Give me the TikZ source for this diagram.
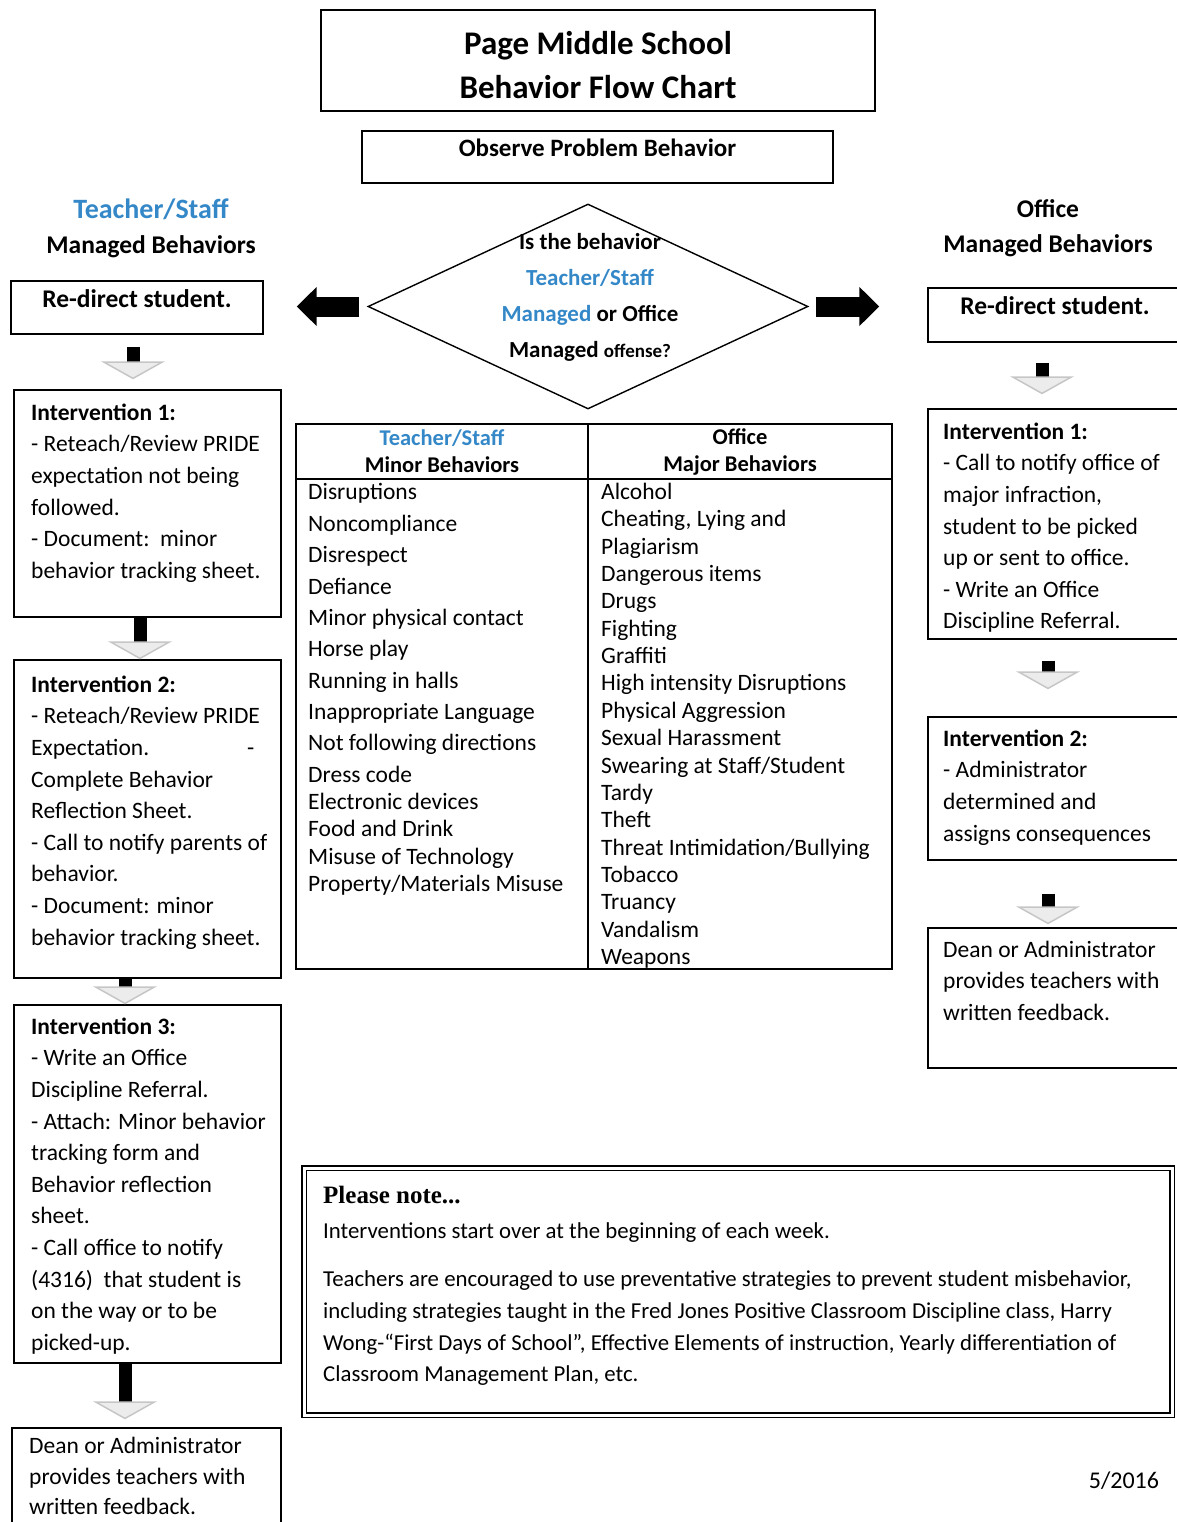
\documentclass[tikz,border=0pt]{standalone}
\usepackage{fontspec}
\setmainfont{Carlito}
\newfontfamily\notefont{Liberation Serif}
\usetikzlibrary{arrows.meta,shapes.geometric}

\begin{document}
\begin{tikzpicture}[x=1pt,y=-1pt,
  box/.style={draw, line width=1.4pt, inner sep=0pt},
  headbox/.style={box, font=\bfseries\fontsize{25.5}{28}\selectfont, text depth=18pt},
  boxtext/.style={anchor=north west, align=left, inner sep=0pt, font=\fontsize{23.5}{31.6}\selectfont},
  listtext/.style={anchor=north west, align=left, inner sep=0pt, font=\fontsize{23.5}{27.35}\selectfont},
  colhead/.style={align=center, font=\bfseries\fontsize{25.5}{35}\selectfont},
  tablehead/.style={align=center, font=\bfseries\fontsize{22.5}{27}\selectfont},
  downflow/.style={line width=13pt, -{Triangle[width=64pt,length=18pt,fill=gray!15,color=gray!45,line width=1.5pt]}},
  sideflow/.style={line width=20pt, -{Triangle[width=38pt,length=20pt]}}]
\definecolor{tsblue}{RGB}{52,136,200}
\useasboundingbox (0,0) rectangle (1176,1522);

% title and start
\node[box, minimum width=554pt, minimum height=101pt] (title) at (598,60.5) {};
\node[align=center, font=\bfseries\fontsize{33}{44}\selectfont] (titletext) at (598,65) {Page Middle School\\Behavior Flow Chart};
\node[headbox, font=\bfseries\fontsize{25}{28}\selectfont, minimum width=471pt, minimum height=52pt] (observe) at (597.5,157) {Observe Problem Behavior};

% column headings
\node[colhead] (tshead) at (151,228.5) {{\color{tsblue}\fontsize{28}{35}\selectfont Teacher/Staff}\\Managed Behaviors};
\node[colhead] (offhead) at (1048,228.5) {Office\\Managed Behaviors};

% decision
\node[draw, diamond, line width=1.4pt, minimum width=440pt, minimum height=205pt, inner sep=0pt] (dia) at (588,306.5) {};
\node[align=center, font=\bfseries\fontsize{23}{36}\selectfont] (question) at (590,297) {Is the behavior\\{\color{tsblue}Teacher/Staff}\\{\color{tsblue}Managed} or Office\\Managed {\fontsize{19}{36}\selectfont offense?}};

\node[headbox, minimum width=252pt, minimum height=53pt] (redirL) at (137,307.5) {Re-direct student.};
\node[headbox, minimum width=254pt, minimum height=54pt] (redirR) at (1055,315) {Re-direct student.};

% teacher/staff side
\node[box, minimum width=267pt, minimum height=227pt] (int1L) at (147.5,503.5) {};
\node[boxtext] (int1Ltext) at (31,403.5) {\textbf{Intervention 1:}\\- Reteach/Review PRIDE\\expectation not being\\followed.\\- Document:\ \ minor\\behavior tracking sheet.};
\node[box, minimum width=267pt, minimum height=318pt] (int2L) at (147.5,819) {};
\node[boxtext] (int2Ltext) at (31,675.5) {\textbf{Intervention 2:}\\- Reteach/Review PRIDE\\\makebox[216pt][l]{Expectation.}-\\Complete Behavior\\Reflection Sheet.\\- Call to notify parents of\\behavior.\\- Document: minor\\behavior tracking sheet.};
\node[box, minimum width=267pt, minimum height=358pt] (int3L) at (147.5,1184) {};
\node[boxtext] (int3Ltext) at (31,1017.5) {\textbf{Intervention 3:}\\- Write an Office\\Discipline Referral.\\- Attach: Minor behavior\\tracking form and\\Behavior reflection\\sheet.\\- Call office to notify\\(4316)\ \ that student is\\on the way or to be\\picked-up.};
\node[box, minimum width=269pt, minimum height=112pt] (deanL) at (146.5,1484) {};
\node[boxtext, font=\fontsize{23.5}{30.5}\selectfont] (deanLtext) at (29,1437) {Dean or Administrator\\provides teachers with\\written feedback.};

% office side
\node[box, minimum width=254pt, minimum height=230pt] (int1R) at (1055,524) {};
\node[boxtext] (int1Rtext) at (943,422.5) {\textbf{Intervention 1:}\\- Call to notify office of\\major infraction,\\student to be picked\\up or sent to office.\\- Write an Office\\Discipline Referral.};
\node[box, minimum width=254pt, minimum height=143pt] (int2R) at (1055,788.5) {};
\node[boxtext] (int2Rtext) at (943,729.5) {\textbf{Intervention 2:}\\- Administrator\\determined and\\assigns consequences};
\node[box, minimum width=254pt, minimum height=140pt] (deanR) at (1055,998) {};
\node[boxtext] (deanRtext) at (943,940.5) {Dean or Administrator\\provides teachers with\\written feedback.};

% behavior table
\draw[line width=1.4pt] (296,424) rectangle (892,969);
\draw[line width=1.4pt] (588,424) -- (588,969);
\draw[line width=1.4pt] (296,479) -- (892,479);
\node[tablehead] (minorhead) at (442,451.5) {{\color{tsblue}Teacher/Staff}\\Minor Behaviors};
\node[tablehead] (majorhead) at (740,451.5) {Office\\Major Behaviors};
\node[listtext] (minorlist) at (308,483.5) {Disruptions\\[4pt]Noncompliance\\[4pt]Disrespect\\[4pt]Defiance\\[4pt]Minor physical contact\\[4pt]Horse play\\[4pt]Running in halls\\[4pt]Inappropriate Language\\[4pt]Not following directions\\[4pt]Dress code\\Electronic devices\\Food and Drink\\Misuse of Technology\\Property/Materials Misuse};
\node[listtext] (majorlist) at (601,483) {Alcohol\\Cheating, Lying and\\Plagiarism\\Dangerous items\\Drugs\\Fighting\\Graffiti\\High intensity Disruptions\\Physical Aggression\\Sexual Harassment\\Swearing at Staff/Student\\Tardy\\Theft\\Threat Intimidation/Bullying\\Tobacco\\Truancy\\Vandalism\\Weapons};

% note
\node[box, double, double distance=3pt, line width=1.6pt, minimum width=868pt, minimum height=247pt] (note) at (738,1291.5) {};
\node[anchor=west, inner sep=0pt, font=\notefont\bfseries\fontsize{25}{28}\selectfont] (notehead) at (323,1195) {Please note...};
\node[boxtext, font=\fontsize{22.8}{31.7}\selectfont] (notetext) at (323,1222) {Interventions start over at the beginning of each week.\\[17pt]Teachers are encouraged to use preventative strategies to prevent student misbehavior,\\including strategies taught in the Fred Jones Positive Classroom Discipline class, Harry\\Wong-“First Days of School”, Effective Elements of instruction, Yearly differentiation of\\Classroom Management Plan, etc.};
\node[font=\fontsize{24}{26}\selectfont] (date) at (1124,1481) {5/2016};

% arrows
\draw[sideflow, shorten <=8pt, shorten >=33pt] (dia.west) -- (redirL.east |- dia.west);
\draw[sideflow, shorten <=7pt, shorten >=48pt] (dia.east) -- (redirR.west |- dia.east);
\draw[downflow, shorten <=12pt, shorten >=10pt] ([xshift=-4pt]redirL.south) -- ([xshift=-14.5pt]int1L.north);
\draw[downflow] ([xshift=-7.5pt]int1L.south) -- ([xshift=-7.5pt]int2L.north);
\draw[downflow] ([xshift=-22.5pt]int2L.south) -- ([xshift=-22.5pt]int3L.north);
\draw[downflow, shorten >=8pt] ([xshift=-22.5pt]int3L.south) -- ([xshift=-21.5pt]deanL.north);
\draw[downflow, shorten <=20pt, shorten >=14pt] ([xshift=-13pt]redirR.south) -- ([xshift=-13pt]int1R.north);
\draw[downflow, shorten <=21pt, shorten >=27pt] ([xshift=-7pt]int1R.south) -- ([xshift=-7pt]int2R.north);
\draw[downflow, shorten <=33pt, shorten >=3pt] ([xshift=-7pt]int2R.south) -- ([xshift=-7pt]deanR.north);
\end{tikzpicture}
\end{document}
